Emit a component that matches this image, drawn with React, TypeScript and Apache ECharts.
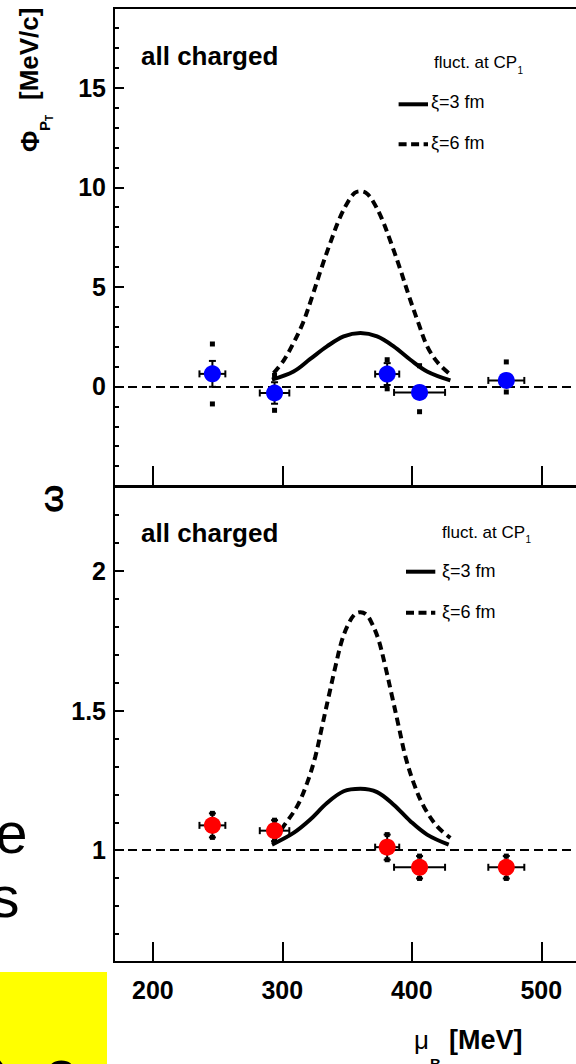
import React, { useEffect, useRef } from "react";
import * as echarts from "echarts";

// ---- axes ----
const xTicks = [200, 300, 400, 500];

const phiMajorTicks = [-5, 0, 5, 10, 15];
const phiLabels = [0, 5, 10, 15];
const phiMinorTicks = [-4, -3, -2, -1, 1, 2, 3, 4, 6, 7, 8, 9, 11, 12, 13, 14, 16, 17, 18];

const omegaMajorTicks = [1, 1.5, 2];
const omegaLabels = [1, 1.5, 2];
const omegaMinorTicks = [0.7, 0.8, 0.9, 1.1, 1.2, 1.3, 1.4, 1.6, 1.7, 1.8, 1.9, 2.1, 2.2];

const phiReference = 0;
const omegaReference = 1;

// ---- measured points (all charged) ----
const muB = [246, 294, 381, 406, 473];
const muBErr = [10, 11.4, 9.3, 19.7, 13.9];

const phiValues = [0.63, -0.33, 0.62, -0.3, 0.3];
const phiStat = [0.65, 0.54, 0.55, 0.3, 0.3];
const phiSysLow = [-0.88, -1.2, -0.12, -1.27, -0.28];
const phiSysHigh = [2.13, 0.55, 1.34, 1.04, 1.23];

const omegaValues = [1.089, 1.07, 1.011, 0.939, 0.939];
const omegaStat = [0.043, 0.0375, 0.045, 0.04, 0.04];

// ---- model: fluctuations at CP1 ----
const phiXi3Mu = [292, 308.7, 321.6, 334.5, 347.4, 360.3, 373.2, 386, 398.9, 411.8, 429.8];
const phiXi3 = [0.34, 0.75, 1.38, 2.01, 2.51, 2.68, 2.51, 2.01, 1.34, 0.75, 0.3];

const phiXi6Mu = [293.3, 301, 308, 316, 323, 330, 337, 344, 351, 356, 360.3, 365, 370, 377, 384, 391, 398, 405, 412, 420, 428.5];
const phiXi6 = [0.67, 1.3, 2.1, 3.2, 4.5, 5.9, 7.2, 8.4, 9.3, 9.72, 9.8, 9.7, 9.3, 8.4, 7.2, 5.9, 4.5, 3.2, 2.0, 1.2, 0.67];

const omegaXi3Mu = [292, 308.7, 321.6, 334.5, 347.4, 360.3, 373.2, 386, 398.9, 411.8, 428.5];
const omegaXi3 = [1.02, 1.062, 1.11, 1.169, 1.211, 1.22, 1.208, 1.163, 1.104, 1.056, 1.02];

const omegaXi6Mu = [293.3, 301, 311.4, 319.1, 325.5, 330.7, 335.8, 341, 346.1, 351.2, 356, 360.3, 365, 369.3, 374.4, 379.6, 384.8, 389.9, 395.1, 401.5, 409.2, 419.5, 429.8];
const omegaXi6 = [1.035, 1.086, 1.157, 1.24, 1.335, 1.443, 1.55, 1.657, 1.752, 1.811, 1.845, 1.852, 1.843, 1.811, 1.752, 1.657, 1.55, 1.443, 1.335, 1.24, 1.157, 1.086, 1.044];

const FONT = "Liberation Sans";

const pairs = (xs: number[], ys: number[]) => xs.map((x, i) => [x, ys[i]]);

function errorBars(params: any, api: any) {
  const x = api.value(0);
  const y = api.value(1);
  const xe = api.value(2);
  const se = api.value(3);
  const lo = api.value(4);
  const hi = api.value(5);
  const L = api.coord([x - xe, y]);
  const R = api.coord([x + xe, y]);
  const T = api.coord([x, y + se]);
  const B = api.coord([x, y - se]);
  const SH = api.coord([x, hi]);
  const SL = api.coord([x, lo]);
  const cap = 3.5;
  const st = { stroke: "#000", lineWidth: 2 };
  const seg = (x1: number, y1: number, x2: number, y2: number) => ({
    type: "line",
    shape: { x1, y1, x2, y2 },
    style: st,
  });
  const dot = (p: number[]) => ({
    type: "rect",
    shape: { x: p[0] - 2.5, y: p[1] - 2.5, width: 5, height: 5 },
    style: { fill: "#000" },
  });
  return {
    type: "group",
    children: [
      seg(L[0], L[1], R[0], R[1]),
      seg(L[0], L[1] - cap, L[0], L[1] + cap),
      seg(R[0], R[1] - cap, R[0], R[1] + cap),
      seg(T[0], T[1], B[0], B[1]),
      seg(T[0] - cap, T[1], T[0] + cap, T[1]),
      seg(B[0] - cap, B[1], B[0] + cap, B[1]),
      dot(SH),
      dot(SL),
    ],
  };
}

function xAxisFor(gridIndex: number, labels: boolean) {
  return {
    type: "value",
    gridIndex,
    min: 170,
    max: 550,
    axisLine: { show: false, onZero: false },
    axisTick: {
      show: true,
      inside: true,
      length: 20,
      customValues: xTicks,
      lineStyle: { color: "#000", width: 2 },
    },
    axisLabel: {
      show: labels,
      customValues: xTicks,
      fontSize: 25,
      fontWeight: "bold",
      fontFamily: FONT,
      color: "#000",
      margin: 15,
    },
    splitLine: { show: false },
  };
}

function yAxisFor(gridIndex: number, min: number, max: number, ticks: number[], labels: number[] | null, len: number) {
  return {
    type: "value",
    gridIndex,
    position: "left",
    min,
    max,
    axisLine: { show: false, onZero: false },
    axisTick: {
      show: true,
      inside: true,
      length: len,
      customValues: ticks,
      lineStyle: { color: "#000", width: 2 },
    },
    axisLabel: labels
      ? {
          show: true,
          customValues: labels,
          fontSize: 25,
          fontWeight: "bold",
          fontFamily: FONT,
          color: "#000",
          margin: 8,
        }
      : { show: false },
    splitLine: { show: false },
  };
}

function curve(xi: number, yi: number, xs: number[], ys: number[], dashed: boolean, ref?: number) {
  const s: any = {
    type: "line",
    xAxisIndex: xi,
    yAxisIndex: yi,
    data: pairs(xs, ys),
    symbol: "none",
    smooth: 0.35,
    silent: true,
    z: 3,
    lineStyle: { color: "#000", width: 4, type: dashed ? [8, 5] : "solid" },
  };
  if (ref !== undefined) {
    s.markLine = {
      silent: true,
      symbol: ["none", "none"],
      label: { show: false },
      lineStyle: { color: "#000", width: 2, type: [9, 5] },
      data: [{ yAxis: ref }],
    };
  }
  return s;
}

const txt = (text: string, x: number, y: number, fontSize: number, extra: any = {}) => ({
  type: "text",
  x,
  y,
  rotation: extra.rotation || 0,
  silent: true,
  z: 10,
  style: {
    text,
    fontSize,
    fontFamily: FONT,
    fontWeight: extra.fontWeight || "normal",
    fill: "#000",
    align: extra.align || "left",
    verticalAlign: "middle",
  },
});

const seg = (x1: number, y1: number, x2: number, y2: number, dash?: number[]) => ({
  type: "line",
  silent: true,
  shape: { x1, y1, x2, y2 },
  style: { stroke: "#000", lineWidth: 4, lineDash: dash || null },
});

const V = Math.PI / 2;

const option: any = {
  animation: false,
  backgroundColor: "#fff",
  textStyle: { fontFamily: FONT },
  grid: [
    { left: 114, top: 8, width: 492, height: 478, show: true, borderColor: "#000", borderWidth: 2 },
    { left: 114, top: 487, width: 492, height: 475, show: true, borderColor: "#000", borderWidth: 2 },
  ],
  xAxis: [xAxisFor(0, false), xAxisFor(1, true)],
  yAxis: [
    yAxisFor(0, -5, 19, phiMajorTicks, phiLabels, 10),
    yAxisFor(0, -5, 19, phiMinorTicks, null, 5),
    yAxisFor(1, 0.6, 2.3, omegaMajorTicks, omegaLabels, 10),
    yAxisFor(1, 0.6, 2.3, omegaMinorTicks, null, 5),
  ],
  series: [
    curve(0, 0, phiXi3Mu, phiXi3, false, phiReference),
    curve(0, 0, phiXi6Mu, phiXi6, true),
    {
      type: "custom",
      xAxisIndex: 0,
      yAxisIndex: 0,
      renderItem: errorBars,
      encode: { x: 0, y: 1 },
      z: 4,
      silent: true,
      data: muB.map((m, i) => [m, phiValues[i], muBErr[i], phiStat[i], phiSysLow[i], phiSysHigh[i]]),
    },
    {
      type: "scatter",
      xAxisIndex: 0,
      yAxisIndex: 0,
      data: pairs(muB, phiValues),
      symbol: "circle",
      symbolSize: 17,
      itemStyle: { color: "#0000ff", borderWidth: 0, opacity: 1 },
      z: 6,
      silent: true,
    },
    curve(1, 2, omegaXi3Mu, omegaXi3, false, omegaReference),
    curve(1, 2, omegaXi6Mu, omegaXi6, true),
    {
      type: "custom",
      xAxisIndex: 1,
      yAxisIndex: 2,
      renderItem: errorBars,
      encode: { x: 0, y: 1 },
      z: 4,
      silent: true,
      data: muB.map((m, i) => [
        m,
        omegaValues[i],
        muBErr[i],
        omegaStat[i],
        omegaValues[i] - omegaStat[i],
        omegaValues[i] + omegaStat[i],
      ]),
    },
    {
      type: "scatter",
      xAxisIndex: 1,
      yAxisIndex: 2,
      data: pairs(muB, omegaValues),
      symbol: "circle",
      symbolSize: 17,
      itemStyle: { color: "#ff0000", borderWidth: 0, opacity: 1 },
      z: 6,
      silent: true,
    },
  ],
  graphic: [
    // panel texts
    txt("all charged", 141, 56, 26, { fontWeight: "bold" }),
    txt("all charged", 141, 533, 26, { fontWeight: "bold" }),
    // legend, upper panel
    txt("fluct. at CP", 434, 62.7, 17),
    txt("1", 517.5, 70.5, 10),
    seg(398.6, 104.3, 428, 104.3),
    txt("\u03be=3 fm", 431, 102.3, 18),
    seg(398.6, 144.3, 428, 144.3, [8, 4.5]),
    txt("\u03be=6 fm", 431, 142.5, 18),
    // legend, lower panel
    txt("fluct. at CP", 442, 532, 17),
    txt("1", 525.5, 539.8, 10),
    seg(406, 571.7, 435.3, 571.7),
    txt("\u03be=3 fm", 442, 570.5, 18),
    seg(406, 612.7, 435.3, 612.7, [8, 4.5]),
    txt("\u03be=6 fm", 442, 611.5, 18),
    // y titles
    txt("\u03a6", 30, 152, 26, { fontWeight: "bold", rotation: V }),
    txt("P", 44.7, 131, 15, { fontWeight: "bold", rotation: V }),
    txt("T", 49.5, 121, 10, { fontWeight: "bold", rotation: V }),
    txt("[MeV/c]", 29, 100, 26, { fontWeight: "bold", rotation: V }),
    txt("\u03c9", 50.5, 513, 34, { fontWeight: "bold", rotation: V }),
    // x title
    txt("\u03bc", 414, 1040.4, 26),
    txt("B", 430, 1063.3, 15, { fontWeight: "bold" }),
    txt("[MeV]", 449, 1040, 27, { fontWeight: "bold" }),
    // surrounding slide text
    txt("e", 27.5, 832, 58, { align: "right" }),
    txt("s", 19.5, 896.4, 58, { align: "right" }),
    {
      type: "rect",
      silent: true,
      shape: { x: 0, y: 972, width: 107, height: 92 },
      style: { fill: "#ffff00" },
      z: 0,
    },
    txt("), 2", -6.5, 1080.5, 58),
  ],
};

export default function App() {
  const ref = useRef<HTMLDivElement>(null);
  useEffect(() => {
    if (!ref.current) return;
    const chart = echarts.init(ref.current, null, { renderer: "svg" });
    chart.setOption(option);
    return () => chart.dispose();
  }, []);
  return (
    <div
      style={{
        position: "fixed",
        left: 0,
        top: 0,
        width: 576,
        height: 1064,
        overflow: "hidden",
        background: "#fff",
      }}
    >
      <div ref={ref} style={{ width: 640, height: 1064 }} />
    </div>
  );
}
